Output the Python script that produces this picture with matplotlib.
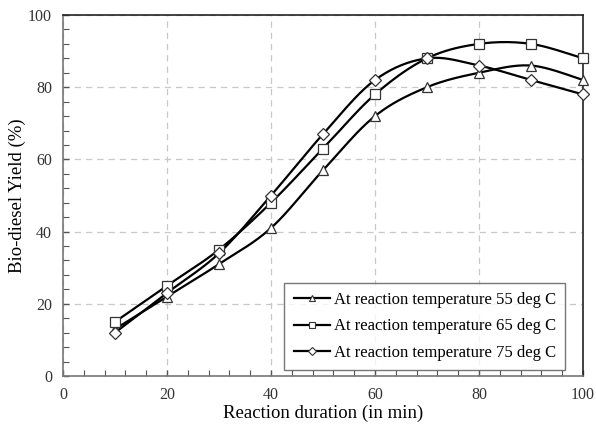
import numpy as np
import matplotlib
matplotlib.use("Agg")
import matplotlib.pyplot as plt
from matplotlib.ticker import MultipleLocator

plt.rcParams['font.family'] = ['Liberation Serif', 'DejaVu Serif']

duration = [10, 20, 30, 40, 50, 60, 70, 80, 90, 100]
yield_55 = [13, 22, 31, 41, 57, 72, 80, 84, 86, 82]
yield_65 = [15, 25, 35, 48, 63, 78, 88, 92, 92, 88]
yield_75 = [12, 23, 34, 50, 67, 82, 88, 86, 82, 78]
labels = ["At reaction temperature 55 deg C",
          "At reaction temperature 65 deg C",
          "At reaction temperature 75 deg C"]
markers = ["^", "s", "D"]


def smooth(x, y, n=20):
    # Catmull-Rom style smoothing (like spreadsheet smoothed lines) for drawing only
    x = np.asarray(x, float); y = np.asarray(y, float)
    P = np.column_stack([x, y])
    P = np.vstack([P[0], P, P[-1]])
    out = []
    t = np.linspace(0, 1, n, endpoint=False)
    for i in range(1, len(P) - 2):
        p0, p1, p2, p3 = P[i - 1], P[i], P[i + 1], P[i + 2]
        c1 = p1 + (p2 - p0) / 6
        c2 = p2 - (p3 - p1) / 6
        seg = ((1 - t)[:, None] ** 3 * p1 + 3 * ((1 - t) ** 2 * t)[:, None] * c1
               + 3 * ((1 - t) * t ** 2)[:, None] * c2 + (t ** 3)[:, None] * p2)
        out.append(seg)
    out.append(P[-2][None, :])
    out = np.vstack(out)
    return out[:, 0], out[:, 1]


fig = plt.figure(figsize=(5.96, 4.25), dpi=100)
ax = fig.add_axes([63 / 596, 1 - 376 / 425, (583 - 63) / 596, (376 - 15) / 425])

for ys, m, lab in zip([yield_55, yield_65, yield_75], markers, labels):
    sx, sy = smooth(duration, ys)
    ax.plot(sx, sy, color='black', lw=1.6, zorder=3, clip_on=False)
    ms = 7 if m != "D" else 6
    ax.plot(duration, ys, linestyle='none', marker=m, ms=ms, mfc='white',
            mec='#333333', mew=0.9, zorder=4, clip_on=False)
    ax.plot([], [], color='black', lw=1.6, marker=m, ms=5 if m != "D" else 4,
            mfc='white', mec='#333333', mew=0.8, label=lab)

ax.set_xlim(0, 100)
ax.set_ylim(0, 100)
ax.xaxis.set_major_locator(MultipleLocator(20))
ax.yaxis.set_major_locator(MultipleLocator(20))
ax.xaxis.set_minor_locator(MultipleLocator(4))
ax.yaxis.set_minor_locator(MultipleLocator(4))
ax.tick_params(which='both', direction='in', top=False, right=False,
               color='#555555')
ax.tick_params(which='major', length=4, width=1, labelsize=11.5,
               labelcolor='#333333', pad=8)
ax.tick_params(which='minor', length=4, width=0.8)
ax.grid(True, which='major', linestyle=(0, (5, 4)), color='#c8c8c8', lw=0.9)
ax.set_axisbelow(True)
for k, s in ax.spines.items():
    s.set_linewidth(1.2)
    s.set_color('#777777' if k in ('left', 'bottom') else '#222222')

ax.set_xlabel("Reaction duration (in min)", fontsize=13.5, labelpad=1)
ax.set_ylabel("Bio-diesel Yield (%)", fontsize=13.5, labelpad=1)

leg = ax.legend(loc='lower right', bbox_to_anchor=(0.965, 0.017), fontsize=12,
                frameon=True, fancybox=False, edgecolor='#555555',
                handlelength=2.2, handletextpad=0.2, borderpad=0.55,
                labelspacing=0.62, borderaxespad=0)
leg.get_frame().set_linewidth(1.0)

fig.savefig("out.png", dpi=100)
